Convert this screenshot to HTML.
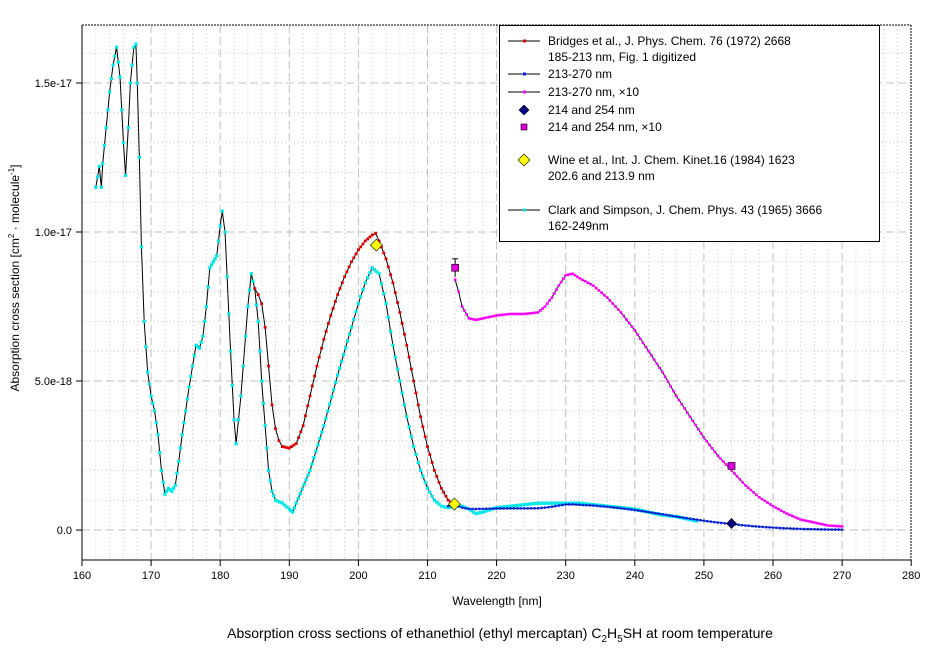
<!DOCTYPE html>
<html><head><meta charset="utf-8"><style>
body{margin:0;background:#fff;}
svg{display:block;font-family:"Liberation Sans",Arial,sans-serif;}
</style></head><body>
<svg id="s" width="942" height="651" xmlns="http://www.w3.org/2000/svg">
<rect width="942" height="651" fill="#fff"/>
<g id="grid"></g>
<g id="series"></g>
<g id="axes"></g>
<g id="legend"></g>
</svg>
<script>
const NS="http://www.w3.org/2000/svg";
const L=82,R=911,T=25,B=560;
const X=w=>82+(w-160)*6.91;
const Y=v=>530-v*29.8;
function el(p,tag,a,txt){const e=document.createElementNS(NS,tag);for(const k in a)e.setAttribute(k,a[k]);if(txt!==undefined)e.textContent=txt;p.appendChild(e);return e;}
const g=document.getElementById('grid'),s=document.getElementById('series'),ax=document.getElementById('axes'),lg=document.getElementById('legend');
for(let w=162;w<280;w+=2){if(w%10)el(g,'line',{x1:X(w),x2:X(w),y1:T,y2:B,stroke:'#c8c8c8','stroke-dasharray':'1,3'});}
for(let v=-1;v<=16;v++){if(v%5){const y=Y(v);if(y>T&&y<B)el(g,'line',{x1:L,x2:R,y1:y,y2:y,stroke:'#c8c8c8','stroke-dasharray':'1,3'});}}
for(let w=170;w<280;w+=10)el(g,'line',{x1:X(w),x2:X(w),y1:T,y2:B,stroke:'#c0c0c0','stroke-dasharray':'8,4'});
for(let v=0;v<=15;v+=5)el(g,'line',{x1:L,x2:R,y1:Y(v),y2:Y(v),stroke:'#c0c0c0','stroke-dasharray':'8,4'});
const cyan=[[162,11.5],[162.5,12.2],[162.8,11.5],[163,12.3],[163.5,13.5],[164,14.7],[164.5,15.6],[165,16.2],[165.5,15.2],[166,13.0],[166.3,11.9],[166.7,13.5],[167,15.0],[167.5,16.2],[167.8,16.3],[168,15.0],[168.3,12.5],[168.6,9.5],[169,7.0],[169.5,5.3],[170,4.5],[170.5,4.0],[171,3.2],[171.5,2.0],[172,1.2],[172.5,1.4],[173,1.3],[173.5,1.5],[174,2.3],[174.5,3.2],[175,4.0],[175.5,4.8],[176,5.5],[176.5,6.2],[177,6.1],[177.5,6.5],[178,7.5],[178.5,8.8],[179,9.0],[179.5,9.2],[180,10.2],[180.3,10.7],[180.7,10.0],[181,8.5],[181.5,6.0],[182,3.7],[182.3,2.9],[183,4.5],[184,7.5],[184.5,8.6],[185,8.1],[185.5,7.0],[186,5.0],[186.5,3.5],[187,2.0],[187.5,1.3],[188,1.0],[189,0.9],[190,0.7],[190.5,0.6],[191,0.9],[193,2.0],[195,3.5],[197,5.2],[199,6.8],[200,7.6],[201,8.3],[202,8.8],[203,8.6],[204,7.6],[205,6.2],[206,5.0],[207,3.8],[208,2.8],[209,2.0],[210,1.4],[211,1.0],[212,0.8],[213,0.75],[214,0.8],[215,0.8],[216,0.7],[217,0.55],[218,0.6],[220,0.75],[222,0.8],[224,0.85],[226,0.9],[228,0.9],[230,0.9],[232,0.9],[234,0.85],[236,0.8],[238,0.75],[240,0.7],[242,0.6],[244,0.5],[246,0.45],[248,0.35],[249,0.3]];
const red=[[185,8.1],[185.5,7.9],[186,7.6],[186.5,6.8],[187,5.5],[187.5,4.2],[188,3.4],[188.5,3.0],[189,2.8],[190,2.75],[191,2.9],[192,3.5],[193,4.5],[194,5.5],[195,6.4],[196,7.2],[197,7.9],[198,8.5],[199,9.0],[200,9.4],[201,9.7],[202,9.9],[202.5,9.95],[203,9.7],[204,9.1],[205,8.3],[206,7.3],[207,6.2],[208,5.0],[209,3.8],[210,2.8],[211,2.0],[212,1.4],[213,1.0],[214,0.8]];
const mag=[[214,8.4],[214.5,8.0],[215,7.5],[216,7.1],[217,7.05],[218,7.1],[220,7.2],[222,7.25],[224,7.25],[226,7.3],[227,7.5],[228,7.8],[229,8.2],[230,8.55],[231,8.6],[232,8.45],[234,8.2],[236,7.8],[238,7.3],[240,6.7],[242,6.0],[244,5.3],[246,4.5],[248,3.8],[250,3.1],[252,2.5],[254,2.0],[256,1.5],[258,1.1],[260,0.8],[262,0.55],[264,0.35],[266,0.25],[268,0.15],[270,0.12]];
const blue=[[213,0.8]].concat(mag.map(p=>[p[0],p[1]/10]));
function dense(d,step){const out=[];for(let i=0;i<d.length-1;i++){const[a,b]=[d[i],d[i+1]];const n=Math.max(1,Math.round((b[0]-a[0])/step));for(let k=0;k<n;k++){const t=k/n;out.push([a[0]+(b[0]-a[0])*t,a[1]+(b[1]-a[1])*t]);}}out.push(d[d.length-1]);return out;}
function draw(d,col,r,step){const pts=dense(d,step);el(s,'polyline',{points:d.map(p=>X(p[0])+','+Y(p[1])).join(' '),fill:'none',stroke:'#000','stroke-width':1});pts.forEach(p=>el(s,'rect',{x:X(p[0])-r,y:Y(p[1])-r,width:2*r,height:2*r,fill:col}));}
draw(cyan,'#00e8e8',1.6,0.3);
draw(red,'#e00000',1.4,0.35);
draw(blue,'#0020ff',1.2,0.5);
draw(mag,'#ff00ff',1.3,0.4);
function diamond(p,x,y,r,fill){el(p,'polygon',{points:`${x},${y-r} ${x+r},${y} ${x},${y+r} ${x-r},${y}`,fill:fill,stroke:'#000','stroke-width':0.6});}
diamond(s,X(254),Y(0.22),5,'#000080');
el(s,'line',{x1:X(214),x2:X(214),y1:Y(9.1),y2:Y(8.5),stroke:'#000'});
el(s,'line',{x1:X(214)-3,x2:X(214)+3,y1:Y(9.1),y2:Y(9.1),stroke:'#000'});
el(s,'rect',{x:X(214)-3.5,y:Y(8.8)-3.5,width:7,height:7,fill:'#e000e0',stroke:'#000','stroke-width':0.6});
el(s,'rect',{x:X(254)-3.5,y:Y(2.15)-3.5,width:7,height:7,fill:'#e000e0',stroke:'#000','stroke-width':0.6});
diamond(s,X(202.6),Y(9.56),6,'#ffff00');
diamond(s,X(213.9),Y(0.87),6,'#ffff00');
el(ax,'line',{x1:L,x2:R,y1:T,y2:T,stroke:'#000','stroke-dasharray':'2,1'});
el(ax,'line',{x1:R,x2:R,y1:T,y2:B,stroke:'#000','stroke-dasharray':'2,1'});
el(ax,'line',{x1:L,x2:L,y1:T,y2:B,stroke:'#000'});
el(ax,'line',{x1:L,x2:R,y1:B,y2:B,stroke:'#000'});
for(let w=160;w<=280;w+=10){el(ax,'line',{x1:X(w),x2:X(w),y1:B,y2:B+6,stroke:'#000'});el(ax,'text',{x:X(w),y:B+19,'font-size':11,'text-anchor':'middle'},w);}
const yl=['0.0','5.0e-18','1.0e-17','1.5e-17'];
[0,5,10,15].forEach((v,i)=>{el(ax,'line',{x1:L-6,x2:L,y1:Y(v),y2:Y(v),stroke:'#000'});el(ax,'text',{x:L-10,y:Y(v)+4,'font-size':11,'text-anchor':'end'},yl[i]);});
el(ax,'text',{x:497,y:605,'font-size':12,'text-anchor':'middle'},'Wavelength [nm]');
const yt=el(ax,'text',{transform:'translate(19,278) rotate(-90)','font-size':12,'text-anchor':'middle'});
yt.innerHTML='Absorption cross section [cm<tspan dy="-5" font-size="8">2</tspan><tspan dy="5"> · molecule</tspan><tspan dy="-5" font-size="8">-1</tspan><tspan dy="5">]</tspan>';
const cap=el(ax,'text',{x:500,y:638,'font-size':14,'text-anchor':'middle'});
cap.innerHTML='Absorption cross sections of ethanethiol (ethyl mercaptan) C<tspan dy="4" font-size="10">2</tspan><tspan dy="-4">H</tspan><tspan dy="4" font-size="10">5</tspan><tspan dy="-4">SH at room temperature</tspan>';
el(lg,'rect',{x:499.5,y:25.5,width:380,height:216,fill:'#fff',stroke:'#000'});
function ll(y,col){el(lg,'line',{x1:508,x2:540,y1:y,y2:y,stroke:'#000'});el(lg,'rect',{x:523,y:y-1.5,width:3,height:3,fill:col});}
function tx(y,t){el(lg,'text',{x:548,y:y+4,'font-size':12},t);}
ll(41,'#e00000');tx(41,'Bridges et al., J. Phys. Chem. 76 (1972) 2668');tx(57,'185-213 nm, Fig. 1 digitized');
ll(74,'#0020ff');tx(74,'213-270 nm');
ll(92,'#ff00ff');tx(92,'213-270 nm, ×10');
diamond(lg,524,110,5,'#000080');tx(110,'214 and 254 nm');
el(lg,'rect',{x:521,y:124,width:6,height:6,fill:'#e000e0',stroke:'#000','stroke-width':0.6});tx(127,'214 and 254 nm, ×10');
diamond(lg,524,160,6,'#ffff00');tx(160,'Wine et al., Int. J. Chem. Kinet.16 (1984) 1623');tx(176,'202.6 and 213.9 nm');
ll(210,'#00e8e8');tx(210,'Clark and Simpson, J. Chem. Phys. 43 (1965) 3666');tx(226,'162-249nm');
</script>
</body></html>
